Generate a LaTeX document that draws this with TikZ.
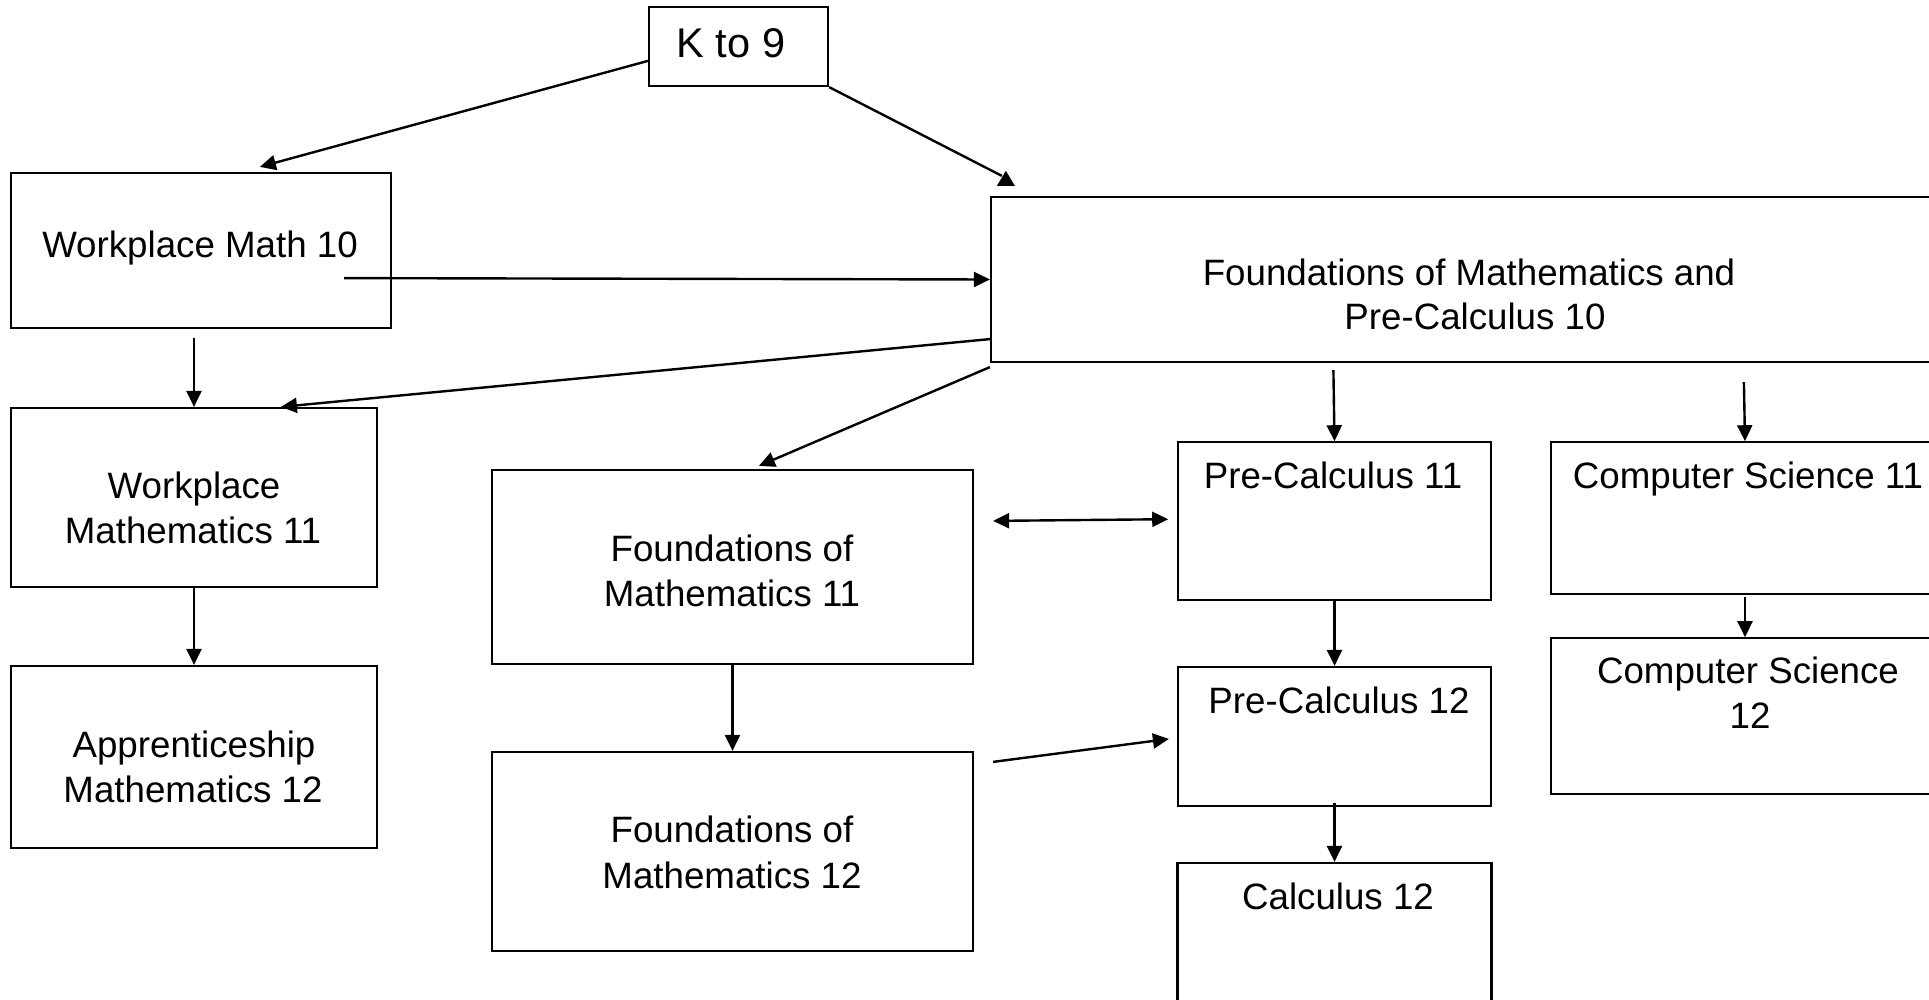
\documentclass[tikz,border=0pt]{standalone}
\usepackage{fontspec}
\setmainfont{Liberation Sans}
\usetikzlibrary{arrows.meta,calc}
\tikzset{
  box/.style={draw, line width=1.1pt, inner sep=0pt, rectangle},
  thinbox/.style={box, line width=0.8pt},
  lbl/.style={inner sep=0pt, anchor=base, font=\fontsize{18.35pt}{22pt}\selectfont},
  biglbl/.style={lbl, font=\fontsize{20.75pt}{25pt}\selectfont},
  arr/.style={line width=1.2pt, -{Triangle[length=8pt,width=7.5pt]}},
  darr/.style={line width=1.2pt, {Triangle[length=8pt,width=7.5pt]}-{Triangle[length=8pt,width=7.5pt]}},
  plainline/.style={line width=1.2pt}
}
\begin{document}
\begin{tikzpicture}[x=0.5pt,y=-0.5pt]
\useasboundingbox (0,0) rectangle (1929,1000);
\clip (0,0) rectangle (1929,1000);

% boxes
\node[box, minimum width=89.5pt, minimum height=39.5pt] (k9) at (738.5,46.5) {};
\node[box, minimum width=190pt, minimum height=77.5pt] (wm10) at (201,250.5) {};
\node[box, minimum width=479pt, minimum height=82.5pt] (fp10) at (1470,279.5) {};
\node[box, minimum width=183pt, minimum height=89.5pt] (wm11) at (194,497.5) {};
\node[box, minimum width=183pt, minimum height=91pt] (appr) at (194,757) {};
\node[box, minimum width=240.5pt, minimum height=97pt] (f11) at (732.5,567) {};
\node[box, minimum width=240.5pt, minimum height=99.5pt] (f12) at (732.5,851.5) {};
\node[thinbox, minimum width=156.5pt, minimum height=79pt] (pc11) at (1334.5,521) {};
\node[box, minimum width=156.5pt, minimum height=69.5pt] (pc12) at (1334.5,736.5) {};
\node[box, minimum width=157pt, minimum height=78.5pt] (calc12) at (1334.5,941.5) {};
\node[thinbox, minimum width=199.5pt, minimum height=76pt] (cs11) at (1750.5,518) {};
\node[thinbox, minimum width=199.5pt, minimum height=78pt] (cs12) at (1750.5,716) {};

% texts
\node[biglbl] (k9t) at (731,58) {K to 9};
\node[lbl] (wm10t) at (200,258) {Workplace Math 10};
\node[lbl] (fp10ta) at (1469,286) {Foundations of Mathematics and};
\node[lbl] (fp10tb) at (1475,330) {Pre-Calculus 10};
\node[lbl] (wm11ta) at (194,498) {Workplace};
\node[lbl] (wm11tb) at (193,543) {Mathematics 11};
\node[lbl] (apprta) at (194,757) {Apprenticeship};
\node[lbl] (apprtb) at (193,802) {Mathematics 12};
\node[lbl] (f11ta) at (732,561) {Foundations of};
\node[lbl] (f11tb) at (732,606) {Mathematics 11};
\node[lbl] (f12ta) at (732,842) {Foundations of};
\node[lbl] (f12tb) at (732,888) {Mathematics 12};
\node[lbl] (pc11t) at (1333,488) {Pre-Calculus 11};
\node[lbl] (cs11t) at (1748,488) {Computer Science 11};
\node[lbl] (pc12t) at (1339,713) {Pre-Calculus 12};
\node[lbl] (calc12t) at (1338,909) {Calculus 12};
\node[lbl] (cs12ta) at (1748,683) {Computer Science};
\node[lbl] (cs12tb) at (1750,728) {12};

% connectors
\draw[arr] ($(k9.north west)+(0,55)$) -- ($(wm10.north west)+(250,-5)$);
\draw[plainline] (k9.south east) -- ($(fp10.north west)+(12,-20)$);
\fill ($(fp10.north west)+(7,-10)$) -- ($(fp10.north west)+(25,-10)$) -- ($(fp10.north west)+(16,-25)$) -- cycle;
\draw[arr] ($(wm10.south east)+(-48,-51)$) -- (fp10.west);
\draw[arr] ($(fp10.south west)+(0,-24)$) -- ($(wm11.north west)+(271,0)$);
\draw[arr] ($(fp10.south west)+(0,4)$) -- ($(f11.north west)+(268,-3)$);
\draw[arr] ($(wm10.south)+(-7,9)$) -- (wm11.north);
\draw[arr] (wm11.south) -- (appr.north);
\draw[arr] ($(fp10.south west)+(343.5,7)$) -- (pc11.north);
\draw[arr] ($(fp10.south west)+(754,19)$) -- ($(cs11.north)+(-5.5,0)$);
\draw[darr] ($(f11.north east)+(19,52)$) -- ($(pc11.north west)+(-9,78)$);
\draw[arr] (f11.south) -- (f12.north);
\draw[arr] ($(f12.north east)+(19,11)$) -- ($(pc12.north west)+(-8,73)$);
\draw[arr] (pc11.south) -- (pc12.north);
\draw[arr] ($(pc12.south)+(0,-4)$) -- (calc12.north);
\draw[arr] ($(cs11.south)+(-5.5,2)$) -- ($(cs12.north)+(-5.5,0)$);
\end{tikzpicture}
\end{document}
